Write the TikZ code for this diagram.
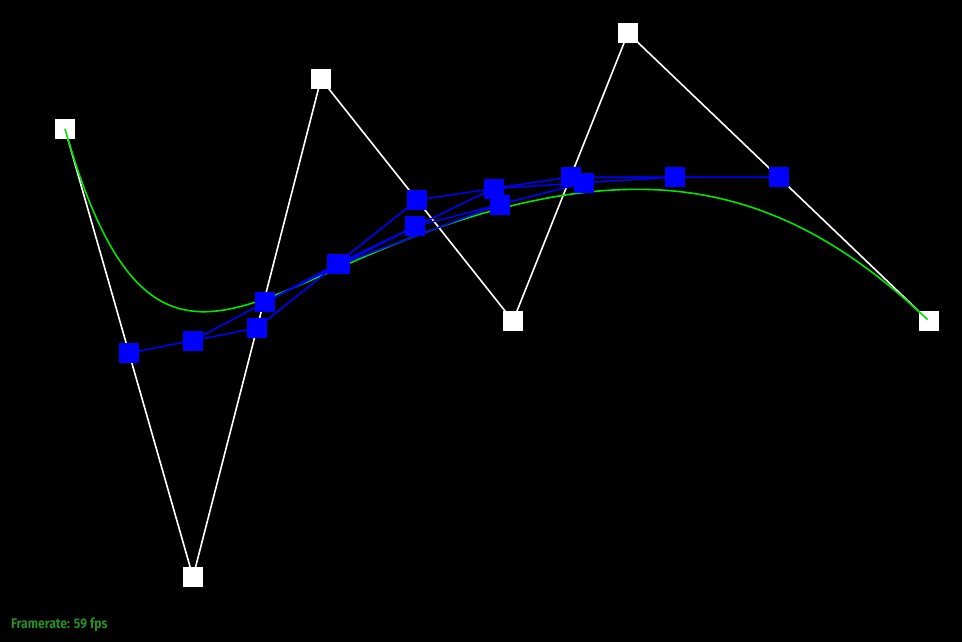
\documentclass[tikz,border=0pt]{standalone}
\usepackage{fontspec}
\usepackage{graphicx}
\setsansfont{Fira Sans}
\usetikzlibrary{calc}
\definecolor{curvegreen}{RGB}{0,230,0}
\definecolor{fpsgreen}{RGB}{40,140,40}
\definecolor{ptblue}{RGB}{0,0,255}
\begin{document}
\begin{tikzpicture}[x=1pt,y=-1pt,
  wsq/.style={fill=white,draw=none,minimum size=20pt,inner sep=0pt,outer sep=0pt},
  bsq/.style={fill=ptblue,draw=none,minimum size=20pt,inner sep=0pt,outer sep=0pt},
  ctrl/.style={draw=white,line width=1.6pt},
  lvl/.style={draw=ptblue,line width=1.5pt},
  crv/.style={draw=curvegreen,line width=1.6pt}]
\fill[black] (0,0) rectangle (962,642);
\useasboundingbox (0,0) rectangle (962,642);
% control points
\coordinate (p0) at (65,129);
\coordinate (p1) at (193,577);
\coordinate (p2) at (321,79);
\coordinate (p3) at (513,321);
\coordinate (p4) at (628,33);
\coordinate (p5) at (929,321);
% de Casteljau levels at t=0.5
\coordinate (a0) at ($(p0)!0.5!(p1)$);
\coordinate (a1) at ($(p1)!0.5!(p2)$);
\coordinate (a2) at ($(p2)!0.5!(p3)$);
\coordinate (a3) at ($(p3)!0.5!(p4)$);
\coordinate (a4) at ($(p4)!0.5!(p5)$);
\coordinate (b0) at ($(a0)!0.5!(a1)$);
\coordinate (b1) at ($(a1)!0.5!(a2)$);
\coordinate (b2) at ($(a2)!0.5!(a3)$);
\coordinate (b3) at ($(a3)!0.5!(a4)$);
\coordinate (c0) at ($(b0)!0.5!(b1)$);
\coordinate (c1) at ($(b1)!0.5!(b2)$);
\coordinate (c2) at ($(b2)!0.5!(b3)$);
\coordinate (d0) at ($(c0)!0.5!(c1)$);
\coordinate (d1) at ($(c1)!0.5!(c2)$);
% control polygon
\draw[ctrl] (p0) -- (p1) -- (p2) -- (p3) -- (p4) -- (p5);
\foreach \n in {p0,p1,p2,p3,p4,p5} \node[wsq] (s\n) at (\n) {};
% curve
\draw[crv] plot[domain=0:1,samples=200,variable=\t]
 ({(1-\t)^5*65 + 5*(1-\t)^4*\t*193 + 10*(1-\t)^3*\t^2*321 + 10*(1-\t)^2*\t^3*513 + 5*(1-\t)*\t^4*628 + \t^5*929},
  {(1-\t)^5*129 + 5*(1-\t)^4*\t*577 + 10*(1-\t)^3*\t^2*79 + 10*(1-\t)^2*\t^3*321 + 5*(1-\t)*\t^4*33 + \t^5*321});
% construction lines
\draw[lvl] (a0) -- (a1) -- (a2) -- (a3) -- (a4);
\draw[lvl] (b0) -- (b1) -- (b2) -- (b3);
\draw[lvl] (c0) -- (c1) -- (c2);
\draw[lvl] (d0) -- (d1);
\foreach \n in {a0,a1,a2,a3,a4,b0,b1,b2,b3,c0,c1,c2,d0,d1} \node[bsq] (s\n) at (\n) {};
% label
\node[anchor=base west,inner sep=0pt,text=fpsgreen,font=\sffamily\bfseries\fontsize{14pt}{16pt}\selectfont] (fps) at (11,628) {\scalebox{0.87}[1]{Framerate: 59 fps}};
\end{tikzpicture}
\end{document}
